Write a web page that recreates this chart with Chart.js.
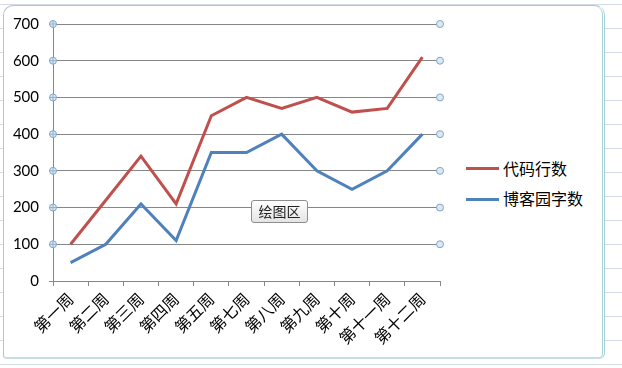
<!DOCTYPE html>
<html>
<head>
<meta charset="utf-8">
<script src="https://cdn.jsdelivr.net/npm/chart.js@4/dist/chart.umd.min.js"></script>
<style>
  html, body { margin: 0; padding: 0; }
  body {
    width: 622px; height: 368px; position: relative; overflow: hidden;
    background-color: #fff;
    background-image:
      linear-gradient(#d4dbe6 1px, transparent 1px);
    background-size: 100% 24px;
    background-position: 0 4px;
  }
  #frame {
    position: absolute; left: 3px; top: 5px; width: 598px; height: 351px;
    background: #fff;
    border: 1px solid #b6c3cf;
    border-right: 3px double #a9d3d6;
    border-bottom: 2px solid #c7dde0;
    border-radius: 10px 10px 6px 4px;
  }
  #wrap { position: absolute; left: 3px; top: 5px; width: 460px; height: 353px; }
  .leg { position: absolute; left: 466px; font: 16px "Noto Sans CJK SC", sans-serif; color: #000; }
  .leg i { position: absolute; left: 0; width: 33px; height: 3px; }
  .leg span { position: absolute; left: 37px; white-space: nowrap; }
  #tip {
    position: absolute; left: 251px; top: 200px; width: 55px; height: 21px;
    border: 1px solid #8d8d8d; border-radius: 3px;
    background: linear-gradient(#ffffff, #e4e4e4);
    font: 14px "Noto Sans CJK SC", sans-serif; color: #222;
    text-align: center; line-height: 21px;
  }
</style>
</head>
<body>
<div id="frame"></div>
<div id="wrap"><canvas id="myChart"></canvas></div>
<div class="leg" style="top:156px"><i style="top:11px;background:#c0504d"></i><span style="top:0">代码行数</span></div>
<div class="leg" style="top:186px"><i style="top:12px;background:#4f81bd"></i><span style="top:0">博客园字数</span></div>
<div id="tip">绘图区</div>
<script>
const weeks = ['第一周', '第二周', '第三周', '第四周', '第五周', '第七周', '第八周', '第九周', '第十周', '第十一周', '第十二周'];
const codeLines = [100, 220, 340, 210, 450, 500, 470, 500, 460, 470, 610];
const blogWords = [50, 100, 210, 110, 350, 350, 400, 300, 250, 300, 400];
const yTicks = [0, 100, 200, 300, 400, 500, 600, 700];

// little round handles on the gridline ends, like Excel's selection marks
const handles = {
    id: 'handles',
    afterDraw(chart) {
        const c = chart.ctx, a = chart.chartArea, y = chart.scales.y;
        c.save();
        c.lineWidth = 1;
        yTicks.forEach(v => {
            if (v === 0) return;
            const py = y.getPixelForValue(v);
            [a.left, a.right].forEach(px => {
                c.beginPath();
                c.arc(px, py, 3.5, 0, Math.PI * 2);
                c.fillStyle = '#dce9f4';
                c.fill();
                c.strokeStyle = '#7fa4c4';
                c.stroke();
                if (px === a.left) {
                    c.beginPath();
                    c.moveTo(px - 3.5, py); c.lineTo(px + 3.5, py);
                    c.moveTo(px, py - 3.5); c.lineTo(px, py + 3.5);
                    c.strokeStyle = '#8fb0cc';
                    c.stroke();
                }
            });
        });
        c.restore();
    }
};

const ctx = document.getElementById('myChart').getContext('2d');
const myChart = new Chart(ctx, {
    type: 'line',
    data: {
        labels: weeks,
        datasets: [{
            label: '代码行数',
            data: codeLines,
            borderColor: '#c0504d',
            borderWidth: 3,
            pointRadius: 0,
            tension: 0
        }, {
            label: '博客园字数',
            data: blogWords,
            borderColor: '#4f81bd',
            borderWidth: 3,
            pointRadius: 0,
            tension: 0
        }]
    },
    options: {
        responsive: true,
        maintainAspectRatio: false,
        animation: false,
        layout: { padding: { top: 18, right: 23, left: 0, bottom: 0 } },
        plugins: {
            legend: { display: false },
            tooltip: { enabled: false }
        },
        scales: {
            x: {
                offset: true,
                afterFit(s) { s.height = 77; },
                border: { color: '#868686', width: 1 },
                grid: { offset: true, drawOnChartArea: false, color: '#868686', tickLength: 5 },
                ticks: {
                    color: '#000',
                    maxRotation: 45,
                    minRotation: 45,
                    padding: 3,
                    autoSkip: false,
                    font: { family: '"Noto Sans CJK SC", sans-serif', size: 16 }
                }
            },
            y: {
                min: 0,
                max: 700,
                afterFit(s) { s.width = 50; },
                afterBuildTicks(s) { s.ticks = yTicks.map(v => ({ value: v })); },
                border: { color: '#868686', width: 1 },
                grid: { color: '#868686', tickLength: 4 },
                ticks: {
                    color: '#000',
                    padding: 10,
                    font: { family: 'Lato, sans-serif', size: 15 }
                }
            }
        }
    },
    plugins: [handles]
});
</script>
</body>
</html>
